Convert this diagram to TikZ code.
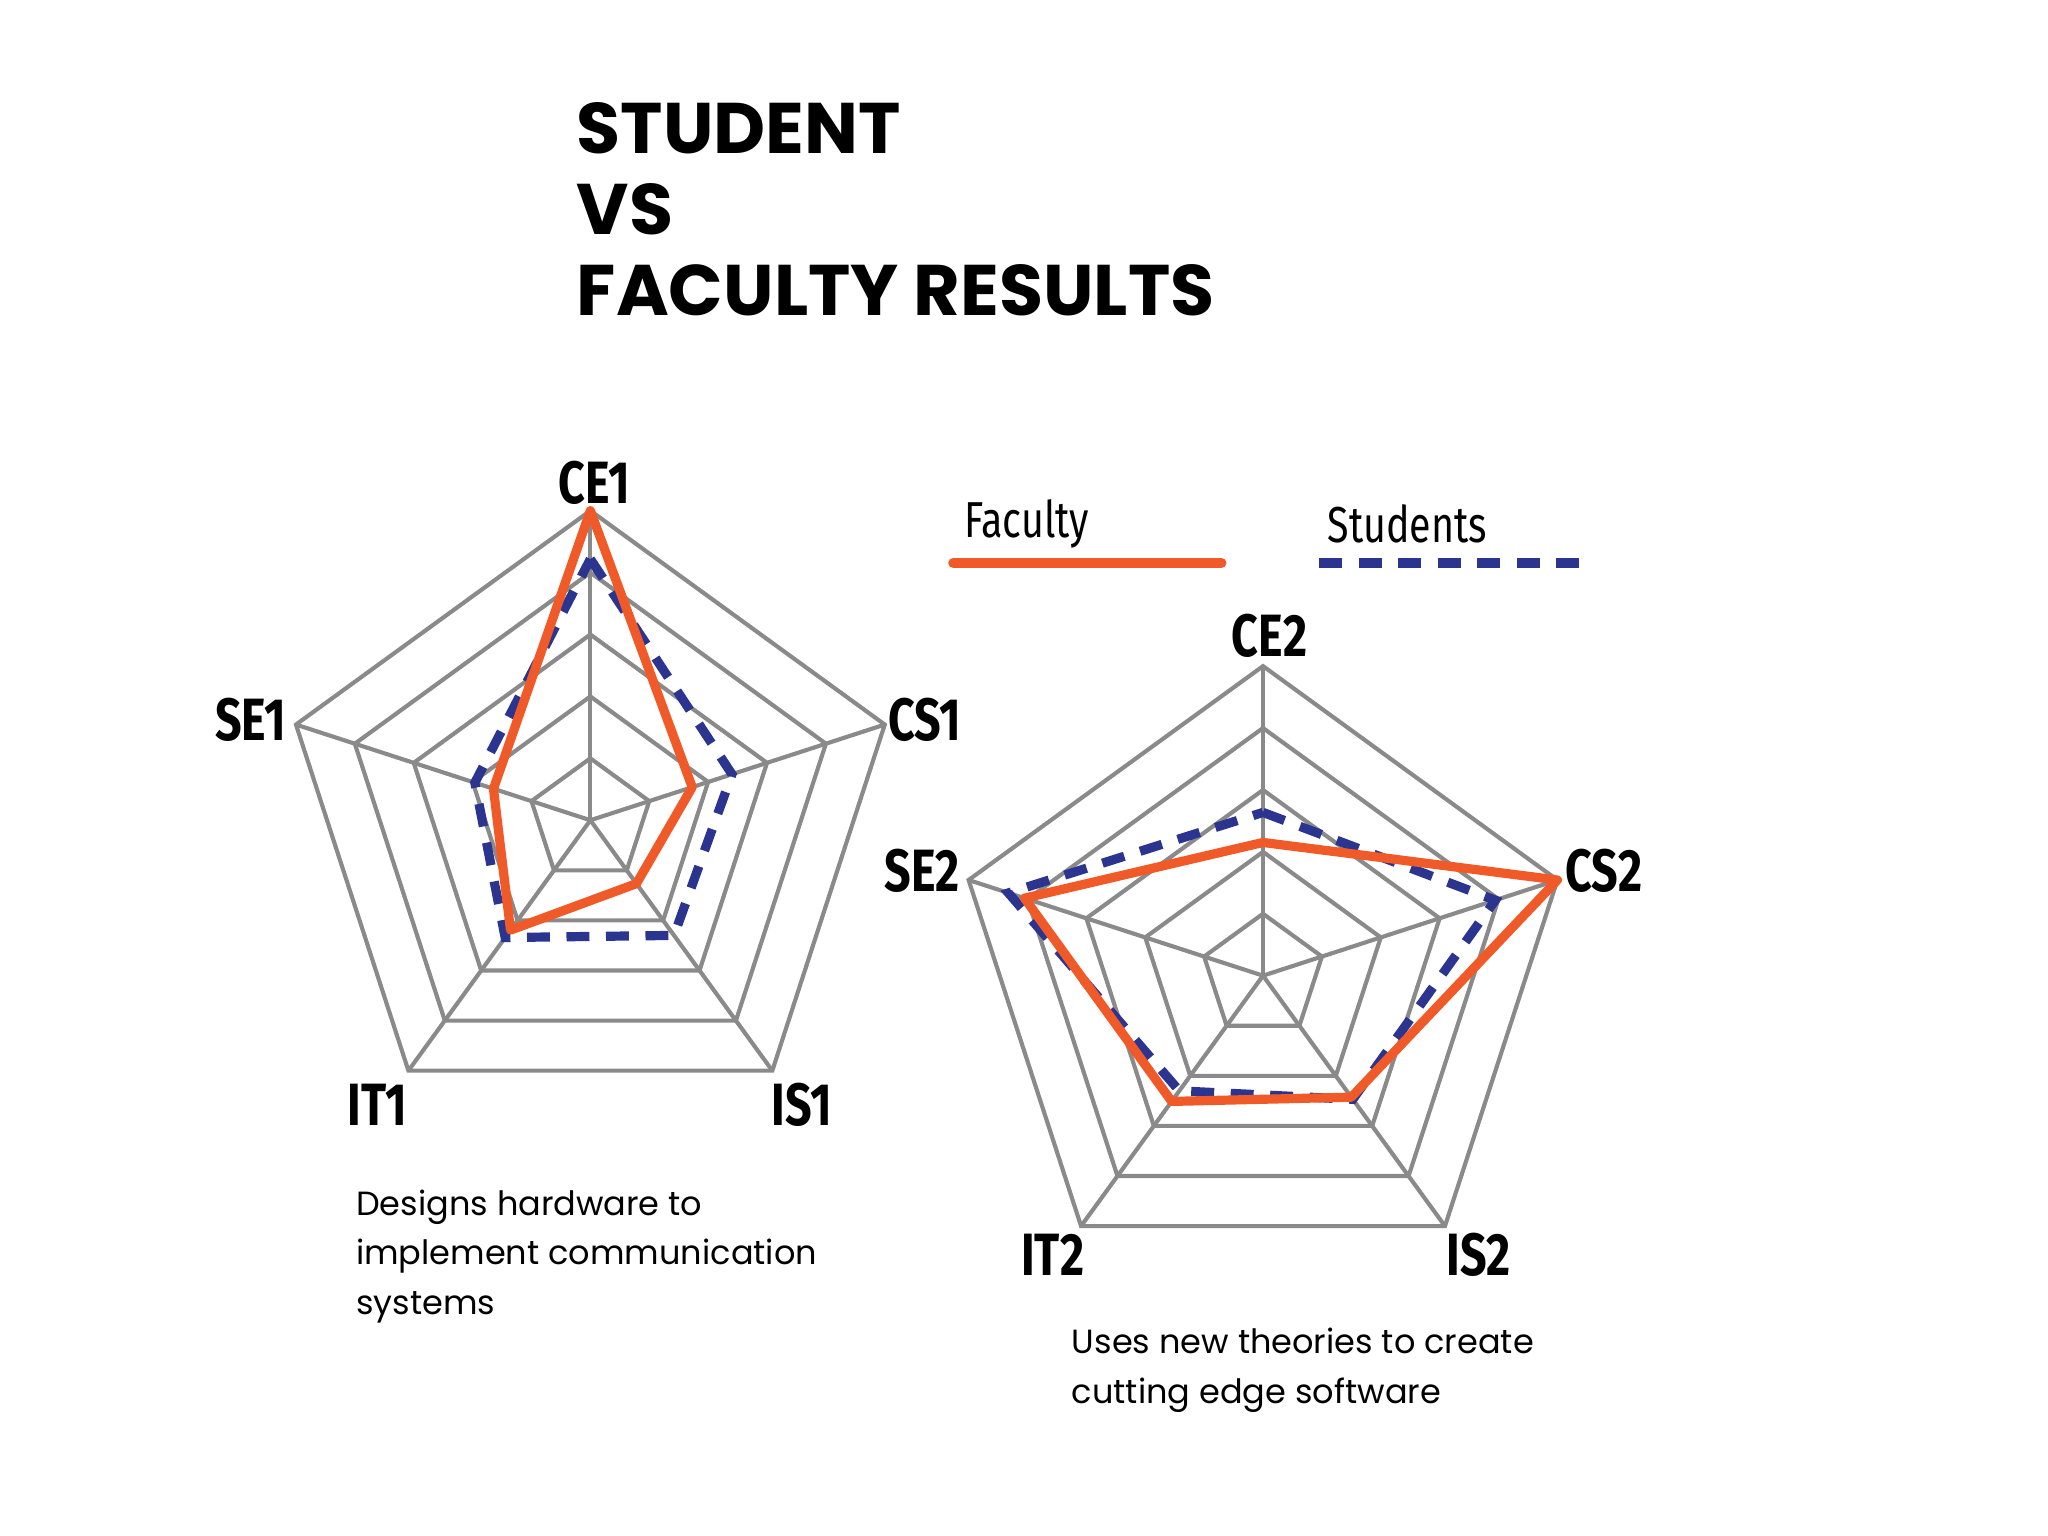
\documentclass[tikz,border=0pt]{standalone}
\usepackage{fontspec}
\setmainfont{Poppins}
\newfontfamily\axfont[FakeStretch=0.78]{Fira Sans}
\definecolor{fac}{HTML}{F05A28}
\definecolor{stu}{HTML}{2B3590}
\definecolor{grd}{HTML}{8A8A8A}
\begin{document}
\begin{tikzpicture}[x=0.01cm,y=-0.01cm,
  grid/.style={grd,line width=0.9pt},
  facline/.style={fac,line width=2pt,line join=round},
  stuline/.style={stu,line width=2pt,dash pattern=on 5pt off 3.6pt},
  axlab/.style={font=\axfont\bfseries\fontsize{13}{13}\selectfont},
  leglab/.style={font=\axfont\fontsize{11}{11}\selectfont,anchor=west},
  captext/.style={font=\fontsize{7.3}{10.8}\selectfont,align=left,anchor=north west,inner sep=0}]
\useasboundingbox (0,0) rectangle (1568,1176);
\node[anchor=north west,inner sep=0,align=left,font=\bfseries\fontsize{15.6}{17.6}\selectfont] (title) at (441,78) {STUDENT\\VS\\FACULTY RESULTS};
\newcommand{\myradar}[3]{%
 \begin{scope}[shift={(#1)}]
  \foreach \k in {1,...,5}{\draw[grid] (-90:\k*47.4) -- (-18:\k*47.4) -- (54:\k*47.4) -- (126:\k*47.4) -- (198:\k*47.4) -- cycle;}
  \foreach \a in {-90,-18,54,126,198}{\draw[grid] (0,0) -- (\a:237);}
  \draw[stuline] #3;
  \draw[facline] #2;
 \end{scope}}
\myradar{452,628}{(-90:237) -- (-18:82) -- (54:60) -- (126:104) -- (198:78) -- cycle}{(-90:200) -- (-18:114) -- (54:109) -- (126:111) -- (198:93) -- cycle}
\myradar{967,747}{(-90:102) -- (-18:237) -- (54:115) -- (126:119) -- (198:192) -- cycle}{(-90:125) -- (-18:187) -- (54:117) -- (126:109) -- (198:205) -- cycle}
\node[axlab] (ce1) at (455,370) {CE1};
\node[axlab] (cs1) at (708,551) {CS1};
\node[axlab] (se1) at (192,551) {SE1};
\node[axlab] (it1) at (289,846) {IT1};
\node[axlab] (is1) at (614,846) {IS1};
\node[axlab] (ce2) at (972,487) {CE2};
\node[axlab] (cs2) at (1228,667) {CS2};
\node[axlab] (se2) at (706,667) {SE2};
\node[axlab] (it2) at (806,961) {IT2};
\node[axlab] (is2) at (1132,961) {IS2};
\node[leglab] (lf) at (726,401) {Faculty};
\node[leglab] (ls) at (1004,401) {Students};
\coordinate (f1) at (730,431); \coordinate (f2) at (935,431);
\coordinate (s1) at (1010,431); \coordinate (s2) at (1214,431);
\draw[facline,line width=2.3pt,line cap=round] (f1) -- (f2);
\draw[stuline] (s1) -- (s2);
\node[captext] (c1) at (272,910) {Designs hardware to\\implement communication\\systems};
\node[captext] (c2) at (820,1016) {Uses new theories to create\\cutting edge software};
\end{tikzpicture}
\end{document}
